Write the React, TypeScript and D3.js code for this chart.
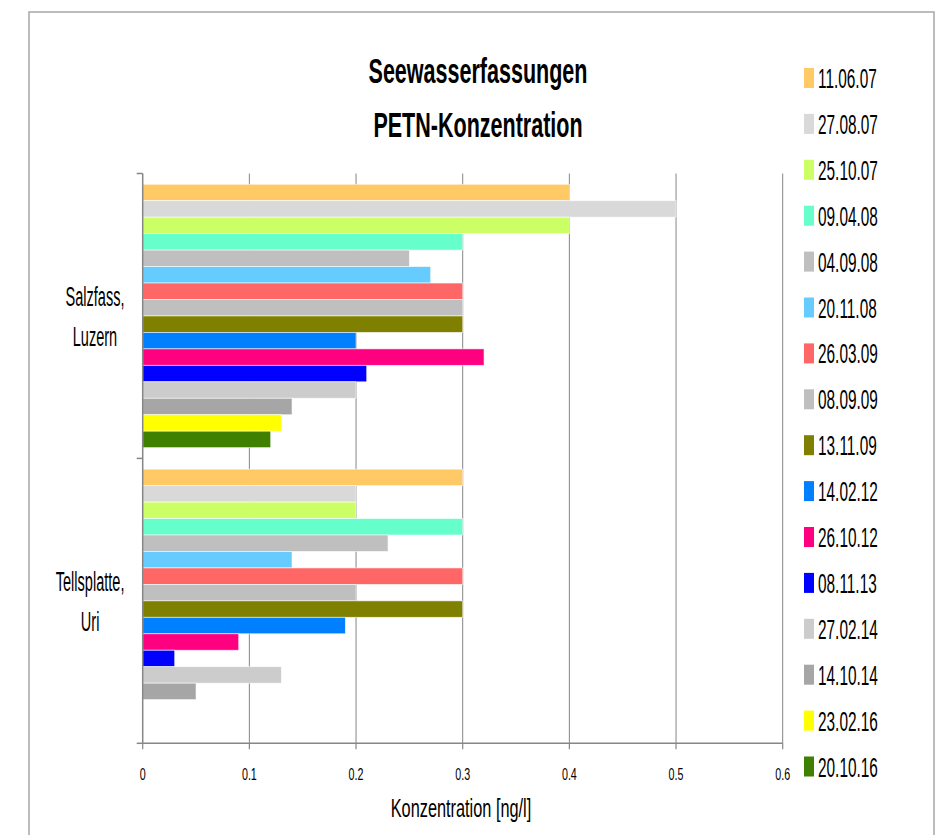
import React from 'react';
import * as d3 from 'd3';

const categoryLines: string[][] = [
  ['Salzfass,', 'Luzern'],
  ['Tellsplatte,', 'Uri'],
];
const categoryIds = ['Salzfass', 'Tellsplatte'];

const seriesNames = [
  '11.06.07', '27.08.07', '25.10.07', '09.04.08', '04.09.08', '20.11.08',
  '26.03.09', '08.09.09', '13.11.09', '14.02.12', '26.10.12', '08.11.13',
  '27.02.14', '14.10.14', '23.02.16', '20.10.16',
];
const seriesColors = [
  '#FFC966', '#D9D9D9', '#CCFF66', '#66FFCC', '#BFBFBF', '#66CCFF',
  '#FF6666', '#BFBFBF', '#808000', '#0080FF', '#FF0080', '#0000FF',
  '#CCCCCC', '#A6A6A6', '#FFFF00', '#408000',
];
const salzfassValues: (number | null)[] = [
  0.4, 0.5, 0.4, 0.3, 0.25, 0.27, 0.3, 0.3, 0.3, 0.2, 0.32, 0.21, 0.2, 0.14, 0.13, 0.12,
];
const tellsplatteValues: (number | null)[] = [
  0.3, 0.2, 0.2, 0.3, 0.23, 0.14, 0.3, 0.2, 0.3, 0.19, 0.09, 0.03, 0.13, 0.05, null, null,
];
const xTicks = [0, 0.1, 0.2, 0.3, 0.4, 0.5, 0.6];
const titleLines = ['Seewasserfassungen', 'PETN-Konzentration'];
const xAxisTitle = 'Konzentration [ng/l]';

const W = 937;
const H = 835;
const FONT = '"Liberation Sans", Arial, sans-serif';
const AXIS_COLOR = '#868686';

const plotLeft = 142.7;
const plotRight = 782.7;
const plotTop = 173.5;
const plotBottom = 743.3;

const x = d3.scaleLinear().domain([0, 0.6]).range([plotLeft, plotRight]);
const y0 = d3.scaleBand<string>().domain(categoryIds).range([plotTop, plotBottom]).padding(0);
const y1 = d3
  .scaleBand<string>()
  .domain(seriesNames)
  .range([0, y0.bandwidth()])
  .paddingInner(0)
  .paddingOuter(0.653);

const valuesByCategory: Record<string, (number | null)[]> = {
  Salzfass: salzfassValues,
  Tellsplatte: tellsplatteValues,
};

function measure(text: string, font: string): number {
  const c = document.createElement('canvas').getContext('2d');
  if (!c) return text.length * 10;
  c.font = font;
  return c.measureText(text).width;
}

const CAT_SIZE = 28;
const CAT_SX = 0.52;
const LEG_SIZE = 28;
const LEG_SX = 0.55;

export default function App() {
  const legendY = (i: number) => 78 + i * 45.9;

  return (
    <svg
      width={W}
      height={H}
      viewBox={`0 0 ${W} ${H}`}
      style={{ position: 'absolute', left: 0, top: 0, background: '#fff' }}
      fontFamily={FONT}
    >
      <rect x={0} y={0} width={W} height={H} fill="#fff" />
      {/* frame */}
      <path d={`M29,${H} V12 H934 V${H}`} fill="none" stroke="#A6A6A6" strokeWidth={1.5} />

      {/* title */}
      {titleLines.map((t, i) => (
        <text
          key={t}
          transform={`translate(478,${83 + i * 54}) scale(0.615,1)`}
          textAnchor="middle"
          fontSize={35}
          fontWeight="bold"
          fill="#000"
        >
          {t}
        </text>
      ))}

      {/* gridlines */}
      {xTicks.slice(1).map((t) => (
        <line
          key={'g' + t}
          x1={x(t)}
          x2={x(t)}
          y1={plotTop}
          y2={plotBottom}
          stroke={AXIS_COLOR}
          strokeWidth={1}
        />
      ))}

      {/* bars */}
      {categoryIds.map((cat) => (
        <g key={cat} transform={`translate(0,${y0(cat)})`}>
          {seriesNames.map((s, i) => {
            const v = valuesByCategory[cat][i];
            if (v == null) return null;
            return (
              <rect
                key={s}
                x={x(0)}
                y={y1(s)}
                width={x(v) - x(0)}
                height={y1.bandwidth()}
                fill={seriesColors[i]}
                stroke="#ffffff"
                strokeOpacity={0.7}
                strokeWidth={0.8}
              />
            );
          })}
        </g>
      ))}

      {/* y axis */}
      <line x1={plotLeft} x2={plotLeft} y1={plotTop} y2={plotBottom} stroke={AXIS_COLOR} strokeWidth={1.5} />
      {[...categoryIds.map((c) => y0(c) as number), plotBottom].map((yy, i) => (
        <line key={'yt' + i} x1={plotLeft - 6} x2={plotLeft} y1={yy} y2={yy} stroke={AXIS_COLOR} strokeWidth={1.5} />
      ))}

      {/* x axis */}
      <line x1={plotLeft} x2={plotRight} y1={plotBottom} y2={plotBottom} stroke={AXIS_COLOR} strokeWidth={1.5} />
      {xTicks.map((t) => (
        <g key={'xt' + t}>
          <line x1={x(t)} x2={x(t)} y1={plotBottom} y2={plotBottom + 6} stroke={AXIS_COLOR} strokeWidth={1.2} />
          <text
            transform={`translate(${x(t)},780) scale(0.67,1)`}
            textAnchor="middle"
            fontSize={16}
            fill="#000"
          >
            {String(t)}
          </text>
        </g>
      ))}
      <text
        transform={`translate(461,816.7) scale(0.64,1)`}
        textAnchor="middle"
        fontSize={25.5}
        fill="#000"
      >
        {xAxisTitle}
      </text>

      {/* category labels */}
      {categoryIds.map((cat, ci) => {
        const lines = categoryLines[ci];
        const center = (y0(cat) as number) + y0.bandwidth() / 2;
        const maxW =
          d3.max(lines, (l) => measure(l, `${CAT_SIZE}px ${FONT}`))! * CAT_SX;
        const cx = 124.5 - maxW / 2;
        return lines.map((l, li) => (
          <text
            key={cat + li}
            transform={`translate(${cx},${center - 10 + li * 40}) scale(${CAT_SX},1)`}
            textAnchor="middle"
            fontSize={CAT_SIZE}
            fill="#000"
          >
            {l}
          </text>
        ));
      })}

      {/* legend */}
      {seriesNames.map((s, i) => (
        <g key={'lg' + s}>
          <rect x={804} y={legendY(i) - 10} width={10} height={20} fill={seriesColors[i]} />
          <text
            transform={`translate(818,${legendY(i) + 10}) scale(${LEG_SX},1)`}
            fontSize={LEG_SIZE}
            fill="#000"
          >
            {s}
          </text>
        </g>
      ))}
    </svg>
  );
}
